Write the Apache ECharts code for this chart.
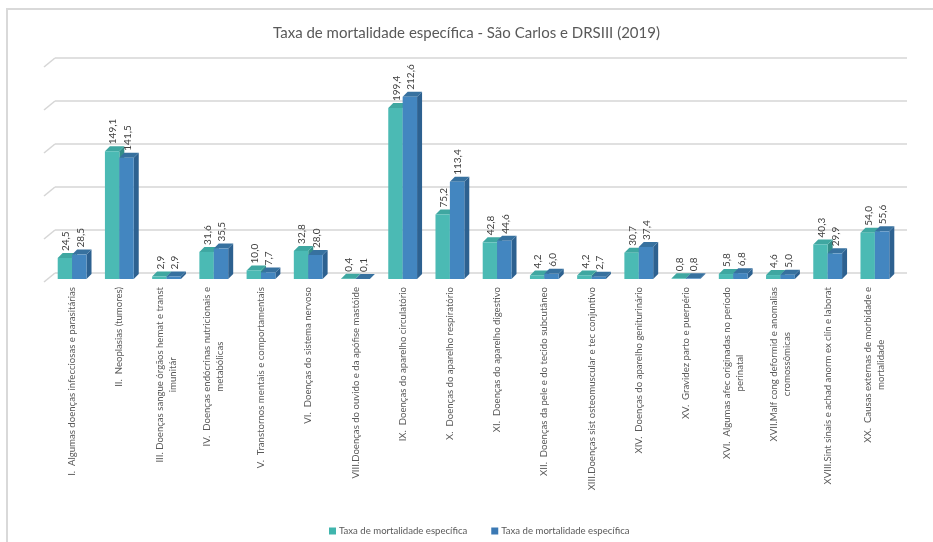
<!DOCTYPE html>
<html><head><meta charset="utf-8">
<script src="https://cdn.jsdelivr.net/npm/echarts@6/dist/echarts.min.js"></script>
<style>html,body{margin:0;padding:0;background:#fff}#c{width:933px;height:542px}</style>
</head><body><div id="c"></div>
<script>
const categories = [
  "I.  Algumas doenças infecciosas e parasitárias",
  "II.  Neoplasias (tumores)",
  "III. Doenças sangue órgãos hemat e transt\nimunitár",
  "IV.  Doenças endócrinas nutricionais e\nmetabólicas",
  "V.  Transtornos mentais e comportamentais",
  "VI.  Doenças do sistema nervoso",
  "VIII.Doenças do ouvido e da apófise mastóide",
  "IX.  Doenças do aparelho circulatório",
  "X.  Doenças do aparelho respiratório",
  "XI.  Doenças do aparelho digestivo",
  "XII.  Doenças da pele e do tecido subcutâneo",
  "XIII.Doenças sist osteomuscular e tec conjuntivo",
  "XIV.  Doenças do aparelho geniturinário",
  "XV.  Gravidez parto e puerpério",
  "XVI.  Algumas afec originadas no período\nperinatal",
  "XVII.Malf cong deformid e anomalias\ncromossômicas",
  "XVIII.Sint sinais e achad anorm ex clín e laborat",
  "XX.  Causas externas de morbidade e\nmortalidade"
];
const saoCarlos = [24.5, 149.1, 2.9, 31.6, 10.0, 32.8, 0.4, 199.4, 75.2, 42.8, 4.2, 4.2, 30.7, 0.8, 5.8, 4.6, 40.3, 54.0];
const drs3 = [28.5, 141.5, 2.9, 35.5, 7.7, 28.0, 0.1, 212.6, 113.4, 44.6, 6.0, 2.7, 37.4, 0.8, 6.8, 5.0, 29.9, 55.6];
const seriesNames = ["Taxa de mortalidade específica", "Taxa de mortalidade específica\u200B"];
const gridTicks = [0, 50, 100, 150, 200, 250];

const FONT = 'Lato';
const fmt = v => v.toFixed(1).replace('.', ',');

function make3D(side, front, sideCol, topCol) {
  return function (params, api) {
    const xi = api.value(0), v = api.value(1);
    const top = api.coord([xi, v]);
    const base = api.coord([xi, 0]);
    const band = api.size([1, 0])[0];
    const bw = band * 0.305;
    const cx = top[0] + side * bw / 2;
    const x0 = cx - bw / 2, x1 = cx + bw / 2, y0 = top[1], y1 = base[1];
    const d = 5;
    return {
      type: 'group',
      children: [
        {type: 'polygon', shape: {points: [[x1, y0], [x1 + d, y0 - d], [x1 + d, y1 - d], [x1, y1]]}, style: {fill: sideCol}},
        {type: 'polygon', shape: {points: [[x0, y0], [x0 + d, y0 - d], [x1 + d, y0 - d], [x1, y0]]}, style: {fill: topCol}},
        {type: 'rect', shape: {x: x0, y: y0, width: bw, height: y1 - y0}, style: {fill: front}},
        {type: 'text', x: cx + 1, y: y0 - d - 2, rotation: Math.PI / 2,
          style: {text: fmt(v), align: 'left', verticalAlign: 'middle', fill: '#404040', fontSize: 10, fontFamily: FONT}}
      ]
    };
  };
}

const chart = echarts.init(document.getElementById('c'));
const option = {
  backgroundColor: '#fff',
  animation: false,
  title: {text: 'Taxa de mortalidade específica - São Carlos e DRSIII (2019)', left: 'center', top: 21,
    textStyle: {fontFamily: FONT, fontSize: 15, fontWeight: 'normal', color: '#595959'}},
  legend: {left: 324, top: 521, itemWidth: 7, itemHeight: 7, itemGap: 24, icon: 'rect',
    textStyle: {fontFamily: FONT, fontSize: 9.6, color: '#595959', padding: [0, 0, 0, -2]},
    data: seriesNames},
  grid: [
    {left: 48.5, right: 34.5, top: 64.7, bottom: 263},
    {left: 55, right: 26, top: 58, bottom: 269}
  ],
  xAxis: [
    {type: 'category', data: categories, gridIndex: 0,
      axisLine: {show: false}, axisTick: {show: false},
      axisLabel: {interval: 0, rotate: 90, margin: 8, color: '#595959', fontFamily: FONT, fontSize: 9.6,
        formatter: function (val) { return val.split('\n').map(l => '{c|' + l + '}').join('\n'); },
        rich: {c: {align: 'center', fontFamily: FONT, fontSize: 9.6, color: '#595959', lineHeight: 13}}}},
    {type: 'value', gridIndex: 1, min: 0, max: 1, show: false}
  ],
  yAxis: [
    {type: 'value', gridIndex: 0, min: 0, max: 250, interval: 50, show: false, splitLine: {show: false}},
    {type: 'value', gridIndex: 1, min: 0, max: 250, interval: 50,
      axisLine: {show: false}, axisTick: {show: false}, axisLabel: {show: false},
      splitLine: {show: true, lineStyle: {color: '#d6d6d6', width: 1.6}}}
  ],
  series: [
    {name: seriesNames[0], type: 'custom', xAxisIndex: 0, yAxisIndex: 0, itemStyle: {color: '#40B5AD'},
      encode: {x: 0, y: 1}, data: saoCarlos.map((v, i) => [i, v]),
      renderItem: make3D(-1, '#4BBAB4', '#338E89', '#3FA7A1')},
    {name: seriesNames[1], type: 'custom', xAxisIndex: 0, yAxisIndex: 0, itemStyle: {color: '#3B79B4'},
      encode: {x: 0, y: 1}, data: drs3.map((v, i) => [i, v]),
      renderItem: make3D(1, '#4386C0', '#2D6190', '#37719F')}
  ]
};
chart.setOption(option);

const gl = 55;
const graphics = [
  {type: 'rect', shape: {x: 7, y: 9, width: 960, height: 560}, style: {fill: 'none', stroke: '#d9d9d9', lineWidth: 2}, silent: true}
];
gridTicks.forEach(t => {
  const y = chart.convertToPixel({yAxisIndex: 1}, t);
  graphics.push({type: 'line', shape: {x1: gl - 11, y1: y + 9, x2: gl, y2: y},
    style: {stroke: '#d6d6d6', lineWidth: 1.6}, silent: true});
});
chart.setOption({graphic: graphics});
</script>
</body></html>
